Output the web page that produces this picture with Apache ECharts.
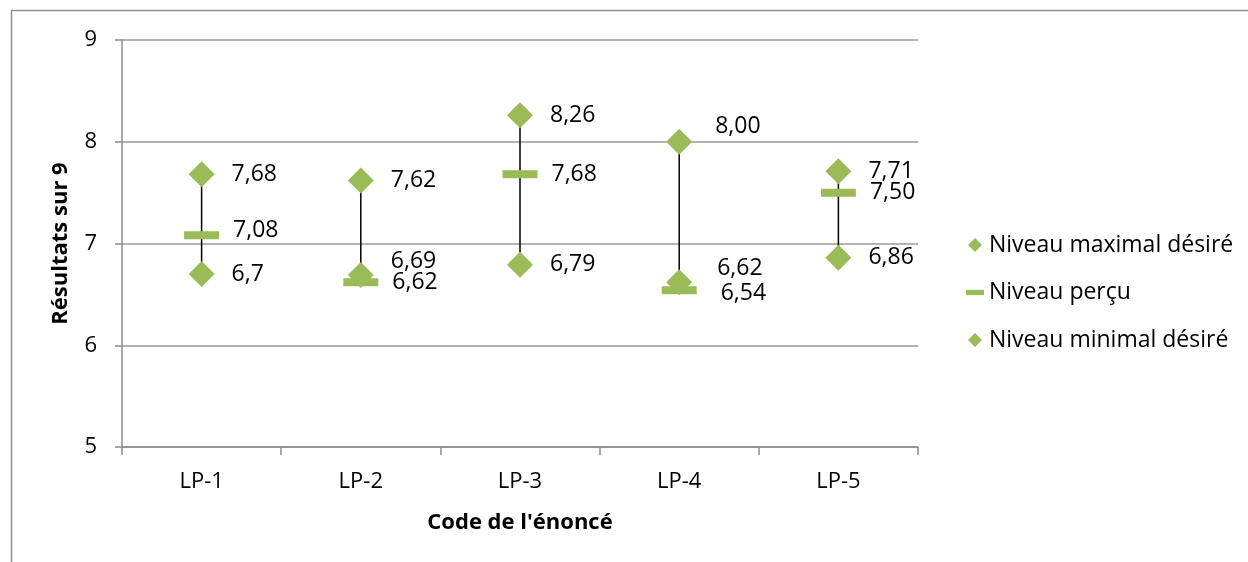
<!DOCTYPE html>
<html>
<head>
<meta charset="utf-8">
<script src="https://cdn.jsdelivr.net/npm/echarts@6/dist/echarts.min.js"></script>
<style>
html,body{margin:0;padding:0;background:#fff;}
#chart{width:1248px;height:562px;}
</style>
</head>
<body>
<div id="chart"></div>
<script>
// ---- data ----
var categories = ['LP-1', 'LP-2', 'LP-3', 'LP-4', 'LP-5'];
var maxValues = [7.68, 7.62, 8.26, 8.00, 7.71];
var maxLabels = ['7,68', '7,62', '8,26', '8,00', '7,71'];
var percuValues = [7.08, 6.62, 7.68, 6.54, 7.50];
var percuLabels = ['7,08', '6,62', '7,68', '6,54', '7,50'];
var minValues = [6.7, 6.69, 6.79, 6.62, 6.86];
var minLabels = ['6,7', '6,69', '6,79', '6,62', '6,86'];
var seriesNames = ['Niveau maximal désiré', 'Niveau perçu', 'Niveau minimal désiré'];
var yTicks = { min: 5, max: 9, interval: 1 };

// ---- styling ----
var GREEN = '#9BBB59';
var FONT = '"Open Sans", "Noto Sans", sans-serif';
var FS = 22;      // axis text
var FSL = 23;     // data labels & legend
var GREY = '#8c8c8c';

// label position tweaks (Excel moved some overlapping labels)
var labelShift = {
  max: {3: [6, -15]},
  percu: {0: [0, -5], 3: [10, 3]},
  min: {1: [0, -14], 3: [8, -14]}
};

function items(values, key) {
  return values.map(function (v, i) {
    var it = { value: [i, v] };
    if (labelShift[key][i]) it.label = { offset: labelShift[key][i] };
    return it;
  });
}

var rangeData = categories.map(function (c, i) { return [i, minValues[i], maxValues[i]]; });

var chart = echarts.init(document.getElementById('chart'), null, { renderer: 'canvas' });

var labelBase = { show: true, position: 'right', color: '#000', fontSize: FSL, fontFamily: FONT };

chart.setOption({
  animation: false,
  backgroundColor: '#fff',
  textStyle: { fontFamily: FONT },
  graphic: [{
    type: 'polyline',
    shape: { points: [[11.5, 600], [11.5, 10.5], [1300, 10.5]] },
    style: { stroke: '#8f8f8f', lineWidth: 1.5, fill: null },
    silent: true
  }],
  grid: { left: 122, right: 330, top: 40, bottom: 115, containLabel: false },
  legend: {
    orient: 'vertical',
    left: 961,
    top: 227,
    itemWidth: 18,
    itemHeight: 14,
    itemGap: 21.5,
    selectedMode: false,
    textStyle: { fontSize: FSL, fontFamily: FONT, color: '#000', lineHeight: 26 },
    data: [
      { name: seriesNames[0], icon: 'path://M5,0 L10,5 L5,10 L0,5 Z' },
      { name: seriesNames[1], icon: 'path://M0,0 L17,0 L17,5 L0,5 Z' },
      { name: seriesNames[2], icon: 'path://M5,0 L10,5 L5,10 L0,5 Z' }
    ]
  },
  xAxis: {
    type: 'category',
    data: categories,
    boundaryGap: true,
    name: "Code de l'énoncé",
    nameLocation: 'middle',
    nameGap: 65,
    nameTextStyle: { fontSize: FS, fontWeight: 'bold', color: '#000', fontFamily: FONT },
    axisLine: { lineStyle: { color: GREY, width: 1.5 } },
    axisTick: { show: true, length: 8, lineStyle: { color: GREY, width: 1.5 } },
    axisLabel: { color: '#000', fontSize: FS, fontFamily: FONT, margin: 24 },
    splitLine: { show: false }
  },
  yAxis: {
    type: 'value',
    min: yTicks.min,
    max: yTicks.max,
    interval: yTicks.interval,
    name: 'Résultats sur 9',
    nameLocation: 'middle',
    nameGap: 50,
    nameRotate: 90,
    nameTextStyle: { fontSize: FS, fontWeight: 'bold', color: '#000', fontFamily: FONT },
    axisLine: { show: true, lineStyle: { color: GREY, width: 1.5 } },
    axisTick: { show: true, length: 7, lineStyle: { color: GREY, width: 1.5 } },
    axisLabel: { color: '#000', fontSize: FS, fontFamily: FONT, margin: 25 },
    splitLine: { show: true, lineStyle: { color: '#9a9a9a', width: 1.5 } }
  },
  series: [
    {
      type: 'custom',
      name: 'range',
      z: 1,
      silent: true,
      data: rangeData,
      encode: { x: 0, y: [1, 2] },
      renderItem: function (params, api) {
        var lo = api.coord([api.value(0), api.value(1)]);
        var hi = api.coord([api.value(0), api.value(2)]);
        return {
          type: 'line',
          shape: { x1: lo[0], y1: lo[1], x2: hi[0], y2: hi[1] },
          style: { stroke: '#000', lineWidth: 1.5 }
        };
      }
    },
    {
      type: 'scatter',
      name: seriesNames[0],
      z: 3,
      symbol: 'diamond',
      symbolSize: 26,
      itemStyle: { color: GREEN, opacity: 1 },
      label: Object.assign({}, labelBase, { distance: 17, formatter: function (p) { return maxLabels[p.dataIndex]; } }),
      data: items(maxValues, 'max')
    },
    {
      type: 'scatter',
      name: seriesNames[1],
      z: 3,
      symbol: 'rect',
      symbolSize: [35, 8],
      itemStyle: { color: GREEN, opacity: 1 },
      label: Object.assign({}, labelBase, { distance: 14, formatter: function (p) { return percuLabels[p.dataIndex]; } }),
      data: items(percuValues, 'percu')
    },
    {
      type: 'scatter',
      name: seriesNames[2],
      z: 3,
      symbol: 'diamond',
      symbolSize: 26,
      itemStyle: { color: GREEN, opacity: 1 },
      label: Object.assign({}, labelBase, { distance: 17, formatter: function (p) { return minLabels[p.dataIndex]; } }),
      data: items(minValues, 'min')
    }
  ]
});
</script>
</body>
</html>
